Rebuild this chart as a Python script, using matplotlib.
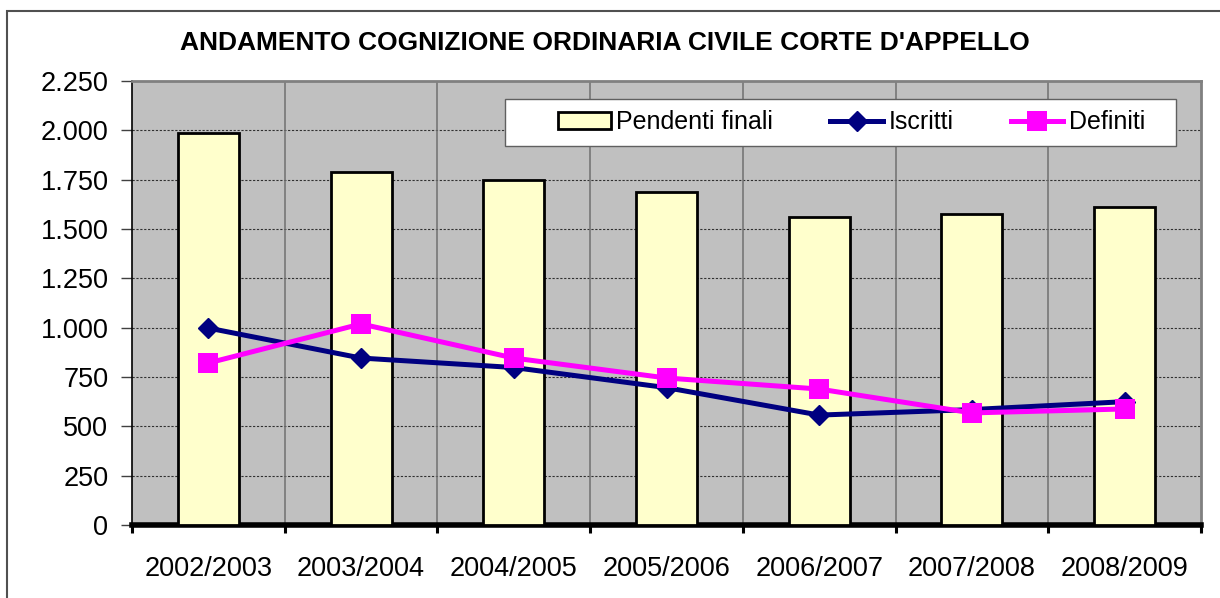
import numpy as np
import matplotlib
matplotlib.use('Agg')
import matplotlib.pyplot as plt
from matplotlib.patches import Rectangle
from matplotlib.ticker import FuncFormatter, FixedLocator

plt.rcParams['font.family'] = ['Liberation Sans', 'DejaVu Sans']

anni = ['2002/2003', '2003/2004', '2004/2005', '2005/2006', '2006/2007', '2007/2008', '2008/2009']
pendenti = [1985, 1789, 1749, 1690, 1560, 1576, 1612]
iscritti = [998, 846, 798, 696, 557, 585, 625]
definiti = [821, 1019, 846, 745, 689, 568, 588]

fig = plt.figure(figsize=(12.2, 5.98), dpi=100)
ax = fig.add_axes([132 / 1220, 1 - 525 / 598, (1201 - 132) / 1220, (525 - 81) / 598])
ax.set_facecolor('#c0c0c0')

x = np.arange(len(anni))
barre = ax.bar(x, pendenti, width=0.4, color='#ffffcc', edgecolor='black', linewidth=2,
               label='Pendenti finali', zorder=3)
l1, = ax.plot(x, iscritti, color='#000080', lw=3.6, marker='D', markersize=10,
              label='Iscritti', zorder=4)
l2, = ax.plot(x, definiti, color='#ff00ff', lw=3.6, marker='s', markersize=14,
              markeredgewidth=0, label='Definiti', zorder=5)

ax.set_xlim(-0.5, len(anni) - 0.5)
ax.set_ylim(0, 2250)
ax.set_yticks(np.arange(0, 2251, 250))
ax.yaxis.set_major_formatter(FuncFormatter(lambda v, p: f'{int(v):,}'.replace(',', '.')))

# griglia orizzontale tratteggiata, verticale tra le categorie
for v in range(250, 2250, 250):
    ax.axhline(v, color='#303030', lw=0.8, ls=(0, (2, 1.5)), zorder=1)
for b in np.arange(0.5, len(anni) - 0.5, 1):
    ax.axvline(b, color='#707070', lw=1.1, zorder=1)

ax.set_xticks(x)
ax.set_xticklabels(anni)
ax.xaxis.set_minor_locator(FixedLocator(np.arange(-0.5, len(anni), 1)))
ax.tick_params(axis='x', which='major', length=0, pad=22, labelsize=19.5)
ax.tick_params(axis='x', which='minor', length=6, width=2.2, color='black', direction='out')
ax.tick_params(axis='y', length=8, width=1, color='#404040', pad=9, labelsize=19.5)

ax.spines['bottom'].set_linewidth(4)
ax.spines['bottom'].set_color('black')
ax.spines['left'].set_linewidth(1.2)
ax.spines['left'].set_color('black')
ax.spines['top'].set_color('#808080')
ax.spines['top'].set_linewidth(2)
ax.spines['right'].set_color('#808080')
ax.spines['right'].set_linewidth(2)

# riquadro della legenda
ax.add_patch(Rectangle((0.349, 0.854), 0.628, 0.106, transform=ax.transAxes,
                       facecolor='white', edgecolor='#606060', lw=1, zorder=9))
leg = ax.legend([barre, l1, l2], ['Pendenti finali', 'Iscritti', 'Definiti'],
                loc='center left', bbox_to_anchor=((558 - 132) / 1069, 0.907),
                borderaxespad=0, borderpad=0, ncol=3, fontsize=18, numpoints=1,
                frameon=False, handlelength=2.1, handletextpad=0.22, columnspacing=2.3)
leg.set_zorder(10)

fig.text(0.496, 1 - 43 / 598, "ANDAMENTO COGNIZIONE ORDINARIA CIVILE CORTE D'APPELLO",
         ha='center', va='center', fontsize=19, fontweight='bold')

fig.patches.append(Rectangle((7 / 1220, -0.05), 1.1, 1 - 11 / 598 + 0.05, transform=fig.transFigure,
                             fill=False, edgecolor='#505050', lw=1.5))

fig.savefig('out.png', dpi=100)
